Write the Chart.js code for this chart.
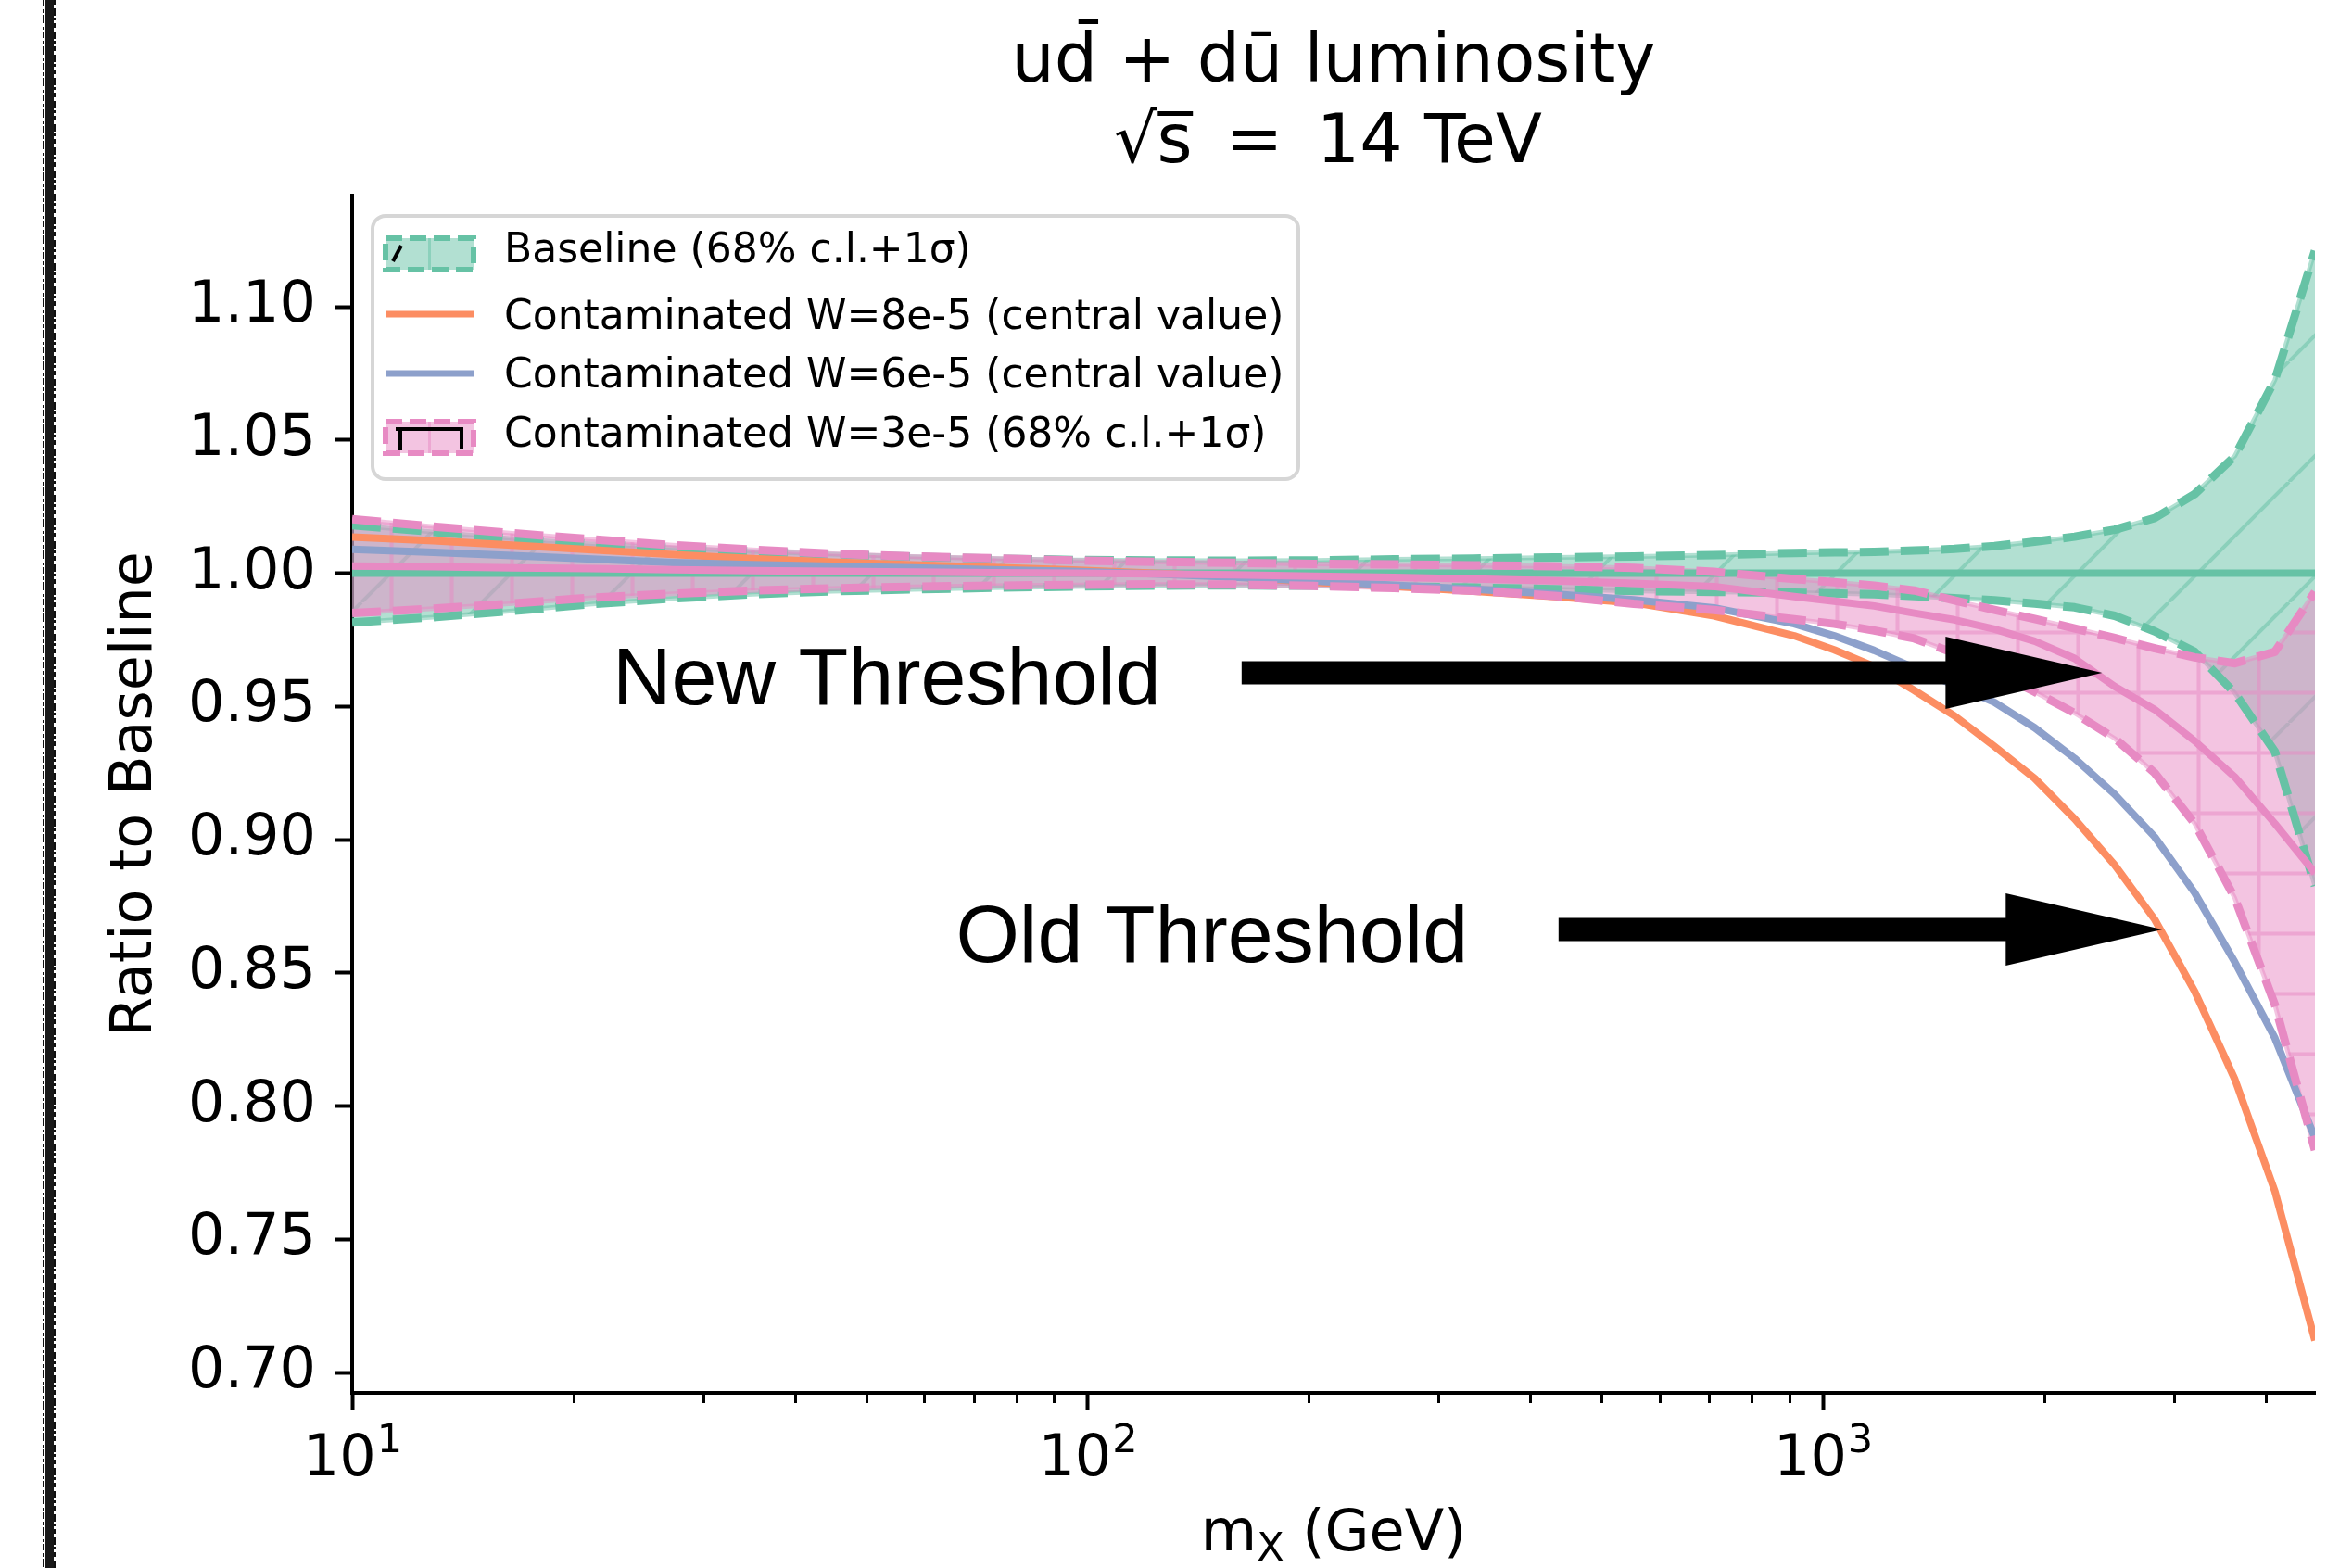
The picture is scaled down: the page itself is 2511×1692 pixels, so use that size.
<!DOCTYPE html>
<html>
<head>
<meta charset="utf-8">
<script src="https://cdn.jsdelivr.net/npm/chart.js@4.4.1/dist/chart.umd.min.js"></script>
<style>
  html, body { margin: 0; padding: 0; background: #fff; }
  canvas { display: block; }
</style>
</head>
<body>
<canvas id="chart" width="2511" height="1692"></canvas>
<script>
// Data (x = m_X in GeV, y = ratio to baseline)
const massValues = [10, 12.9, 16.5, 21.2, 27.3, 35.0, 45.0, 57.9, 74.3, 95.5, 123, 158, 203, 261, 335, 431,
  553, 711, 914, 1036, 1174, 1331, 1509, 1711, 1940, 2199, 2493, 2826, 3203, 3632, 4117, 4667];

const baselineCentral = [1, 1, 1, 1, 1, 1, 1, 1, 1, 1, 1, 1, 1, 1, 1, 1,
  1, 1, 1, 1, 1, 1, 1, 1, 1, 1, 1, 1, 1, 1, 1, 1];
const baselineUpper = [1.0180, 1.0155, 1.0130, 1.0110, 1.0095, 1.0082, 1.0071, 1.0062, 1.0055, 1.0050, 1.0048, 1.0047, 1.0048, 1.0052, 1.0055, 1.0059,
  1.0063, 1.0068, 1.0076, 1.0078, 1.0080, 1.0085, 1.0091, 1.0102, 1.0118, 1.0137, 1.0163, 1.0207, 1.0297, 1.0440, 1.0725, 1.1210];
const baselineLower = [0.9815, 0.9835, 0.9858, 0.9884, 0.9905, 0.9921, 0.9932, 0.9939, 0.9945, 0.9950, 0.9953, 0.9954, 0.9953, 0.9950, 0.9946, 0.9940,
  0.9933, 0.9930, 0.9927, 0.9924, 0.9921, 0.9914, 0.9906, 0.9898, 0.9886, 0.9872, 0.9840, 0.9782, 0.9705, 0.9550, 0.9330, 0.8826];

const w8Central = [1.0136, 1.0122, 1.0105, 1.0088, 1.0070, 1.0055, 1.0042, 1.0031, 1.0022, 1.0012, 1.0000, 0.9987, 0.9966, 0.9950, 0.9932, 0.9912,
  0.9889, 0.9840, 0.9765, 0.9712, 0.9650, 0.9560, 0.9465, 0.9350, 0.9230, 0.9078, 0.8905, 0.8700, 0.8430, 0.8100, 0.7680, 0.7120];
const w6Central = [1.0090, 1.0078, 1.0066, 1.0053, 1.0040, 1.0032, 1.0026, 1.0020, 1.0013, 1.0007, 0.9997, 0.9985, 0.9970, 0.9955, 0.9940, 0.9922,
  0.9900, 0.9870, 0.9810, 0.9765, 0.9710, 0.9645, 0.9580, 0.9515, 0.9420, 0.9305, 0.9170, 0.9010, 0.8800, 0.8540, 0.8255, 0.7880];

const w3Central = [1.0027, 1.0024, 1.0020, 1.0017, 1.0013, 1.0010, 1.0007, 1.0004, 1.0002, 1.0000, 0.9997, 0.9994, 0.9989, 0.9984, 0.9978, 0.9971,
  0.9962, 0.9950, 0.9912, 0.9895, 0.9877, 0.9850, 0.9825, 0.9790, 0.9745, 0.9680, 0.9575, 0.9488, 0.9370, 0.9235, 0.9060, 0.8875];
const w3Upper = [1.0203, 1.0175, 1.0150, 1.0127, 1.0105, 1.0088, 1.0073, 1.0063, 1.0056, 1.0048, 1.0043, 1.0039, 1.0035, 1.0033, 1.0030, 1.0026,
  1.0020, 1.0005, 0.9978, 0.9966, 0.9953, 0.9935, 0.9898, 0.9862, 0.9828, 0.9793, 0.9757, 0.9718, 0.9684, 0.9662, 0.9705, 0.9930];
const w3Lower = [0.9850, 0.9867, 0.9886, 0.9908, 0.9923, 0.9935, 0.9943, 0.9949, 0.9953, 0.9956, 0.9958, 0.9957, 0.9952, 0.9944, 0.9934, 0.9915,
  0.9885, 0.9862, 0.9827, 0.9810, 0.9785, 0.9755, 0.9700, 0.9630, 0.9555, 0.9475, 0.9380, 0.9250, 0.9060, 0.8780, 0.8380, 0.7835];

const yTicks = [0.70, 0.75, 0.80, 0.85, 0.90, 0.95, 1.00, 1.05, 1.10];
const yTickLabels = ["0.70", "0.75", "0.80", "0.85", "0.90", "0.95", "1.00", "1.05", "1.10"];
const xTicks = [10, 100, 1000];
const xTickBase = ["10", "10", "10"];
const xTickExp = ["1", "2", "3"];
const xMinorTicks = [20, 30, 40, 50, 60, 70, 80, 90, 200, 300, 400, 500, 600, 700, 800, 900, 2000, 3000, 4000];

const legendLabels = [
  "Baseline (68% c.l.+1σ)",
  "Contaminated W=8e-5 (central value)",
  "Contaminated W=6e-5 (central value)",
  "Contaminated W=3e-5 (68% c.l.+1σ)",
];
const titleLines = ["ud̄ + dū luminosity", "√s̅\u2002=\u200214 TeV"];
const yAxisTitle = "Ratio to Baseline";

// Annotations (anchors in data coordinates)
const ANNOTATIONS = [
  { label: "New Threshold", textX: 22.6, textY: 0.9508, tailX: 162, tipX: 2397, arrowY: 0.9626 },
  { label: "Old Threshold", textX: 66.2, textY: 0.8541, tailX: 437, tipX: 2894, arrowY: 0.8663 },
];

// Colors (Set2)
const GREEN = "102,194,165";
const PINK = "231,138,195";
const ORANGE = "#fc8d62";
const BLUE = "#8da0cb";
const DASH = [31, 13];
const SOLID_W = 8;
const DASH_W = 9;
const FONT = '"DejaVu Sans"';

const canvas = document.getElementById("chart");
const mainCtx = canvas.getContext("2d");

function rgba(rgb, a) {
  return `rgba(${rgb},${a})`;
}

function makeHatch(rgb, kind) {
  const size = kind === "/" ? 130 : 65;
  const tile = document.createElement("canvas");
  tile.width = size;
  tile.height = size;
  const g = tile.getContext("2d");
  g.fillStyle = rgba(rgb, 0.5);
  g.fillRect(0, 0, size, size);
  g.strokeStyle = rgba(rgb, 0.5);
  g.lineWidth = 4;
  g.beginPath();
  if (kind === "/") {
    [-size, 0, size].forEach((off) => {
      g.moveTo(off, size);
      g.lineTo(off + size, 0);
    });
  } else {
    g.moveTo(0, size / 2);
    g.lineTo(size, size / 2);
    g.moveTo(size / 2, 0);
    g.lineTo(size / 2, size);
  }
  g.stroke();
  return mainCtx.createPattern(tile, "repeat");
}

const greenHatch = makeHatch(GREEN, "/");
const pinkHatch = makeHatch(PINK, "+");

function series(values, opts) {
  return Object.assign(
    {
      data: massValues.map((m, i) => ({ x: m, y: values[i] })),
      pointRadius: 0,
      borderCapStyle: "butt",
      borderJoinStyle: "round",
      fill: false,
    },
    opts
  );
}

const datasets = [
  series(baselineLower, { borderColor: rgba(GREEN, 0.5), borderWidth: 5, order: 10 }),
  series(baselineUpper, { borderColor: rgba(GREEN, 0.5), borderWidth: 5, fill: { target: 0 }, backgroundColor: greenHatch, order: 9 }),
  series(w3Lower, { borderColor: rgba(PINK, 0.5), borderWidth: 5, order: 8 }),
  series(w3Upper, { borderColor: rgba(PINK, 0.5), borderWidth: 5, fill: { target: 2 }, backgroundColor: pinkHatch, order: 7 }),
  series(baselineCentral, { borderColor: rgba(GREEN, 1), borderWidth: SOLID_W, order: 6 }),
  series(baselineLower, { borderColor: rgba(GREEN, 1), borderWidth: DASH_W, borderDash: DASH, order: 5 }),
  series(baselineUpper, { borderColor: rgba(GREEN, 1), borderWidth: DASH_W, borderDash: DASH, order: 5 }),
  series(w8Central, { borderColor: ORANGE, borderWidth: SOLID_W, order: 4 }),
  series(w6Central, { borderColor: BLUE, borderWidth: SOLID_W, order: 3 }),
  series(w3Central, { borderColor: rgba(PINK, 1), borderWidth: SOLID_W, order: 2 }),
  series(w3Lower, { borderColor: rgba(PINK, 1), borderWidth: DASH_W, borderDash: DASH, order: 1 }),
  series(w3Upper, { borderColor: rgba(PINK, 1), borderWidth: DASH_W, borderDash: DASH, order: 1 }),
];

// Drawing helpers
function drawTitle(chart) {
  const { ctx, chartArea } = chart;
  const cx = (chartArea.left + chartArea.right) / 2;
  ctx.save();
  ctx.fillStyle = "#000";
  ctx.font = `73px ${FONT}`;
  ctx.textAlign = "center";
  ctx.textBaseline = "alphabetic";
  ctx.fillText(titleLines[0], cx, 88);
  ctx.fillText(titleLines[1], cx - 6, 175);
  ctx.restore();
}

function drawXAxisText(chart) {
  const { ctx, chartArea } = chart;
  const xs = chart.scales.x;
  ctx.save();
  ctx.fillStyle = "#000";
  ctx.textAlign = "left";
  ctx.textBaseline = "alphabetic";
  xTicks.forEach((v, i) => {
    const px = xs.getPixelForValue(v);
    ctx.font = `62px ${FONT}`;
    const w1 = ctx.measureText(xTickBase[i]).width;
    ctx.font = `43px ${FONT}`;
    const w2 = ctx.measureText(xTickExp[i]).width;
    const x0 = px - (w1 + w2) / 2;
    ctx.font = `62px ${FONT}`;
    ctx.fillText(xTickBase[i], x0, 1592);
    ctx.font = `43px ${FONT}`;
    ctx.fillText(xTickExp[i], x0 + w1 + 1, 1567);
  });

  // axis title: m_X (GeV)
  const cx = (chartArea.left + chartArea.right) / 2;
  ctx.font = `62px ${FONT}`;
  const wm = ctx.measureText("m").width;
  const wr = ctx.measureText(" (GeV)").width;
  ctx.font = `43px ${FONT}`;
  const ws = ctx.measureText("X").width;
  const x = cx - (wm + ws + wr) / 2;
  ctx.font = `62px ${FONT}`;
  ctx.fillText("m", x, 1673);
  ctx.font = `43px ${FONT}`;
  ctx.fillText("X", x + wm, 1684);
  ctx.font = `62px ${FONT}`;
  ctx.fillText(" (GeV)", x + wm + ws, 1673);

  // minor ticks
  ctx.strokeStyle = "#000";
  ctx.lineWidth = 3;
  ctx.beginPath();
  xMinorTicks.forEach((v) => {
    const px = Math.round(xs.getPixelForValue(v)) + 0.5;
    ctx.moveTo(px, chartArea.bottom);
    ctx.lineTo(px, chartArea.bottom + 11);
  });
  ctx.stroke();
  ctx.restore();
}

function drawAnnotations(chart) {
  const { ctx } = chart;
  const xs = chart.scales.x;
  const ys = chart.scales.y;
  ctx.save();
  ctx.fillStyle = "#000";
  ctx.font = '88px "Liberation Sans"';
  ctx.textAlign = "left";
  ctx.textBaseline = "alphabetic";
  ANNOTATIONS.forEach((a) => {
    ctx.fillText(a.label, xs.getPixelForValue(a.textX), ys.getPixelForValue(a.textY));
    const x0 = xs.getPixelForValue(a.tailX);
    const x1 = xs.getPixelForValue(a.tipX);
    const yy = ys.getPixelForValue(a.arrowY);
    const head = 169, half = 12.5, headHalf = 39;
    ctx.beginPath();
    ctx.moveTo(x0, yy - half);
    ctx.lineTo(x1 - head, yy - half);
    ctx.lineTo(x1 - head, yy - headHalf);
    ctx.lineTo(x1, yy);
    ctx.lineTo(x1 - head, yy + headHalf);
    ctx.lineTo(x1 - head, yy + half);
    ctx.lineTo(x0, yy + half);
    ctx.closePath();
    ctx.fill();
  });
  ctx.restore();
}

function drawBandHandle(ctx, cy, rgb, mark) {
  const x = 416, w = 95, h = 34, top = cy - h / 2;
  ctx.fillStyle = rgba(rgb, 0.5);
  ctx.fillRect(x, top, w, h);
  ctx.strokeStyle = rgba(rgb, 0.5);
  ctx.lineWidth = 3;
  ctx.beginPath();
  ctx.moveTo(x + w / 2, top);
  ctx.lineTo(x + w / 2, top + h);
  ctx.stroke();
  ctx.strokeStyle = rgba(rgb, 1);
  ctx.lineWidth = 6;
  ctx.setLineDash([18, 8]);
  ctx.strokeRect(x, top, w, h);
  ctx.setLineDash([]);
  ctx.strokeStyle = "#000";
  ctx.lineWidth = 4;
  ctx.beginPath();
  if (mark === "slash") {
    ctx.moveTo(x + 8, top + 25);
    ctx.lineTo(x + 17, top + 8);
  } else {
    ctx.moveTo(x + 11, top + 8);
    ctx.lineTo(x + 84, top + 8);
    ctx.moveTo(x + 16, top + 8);
    ctx.lineTo(x + 16, top + 31);
    ctx.moveTo(x + 82, top + 8);
    ctx.lineTo(x + 82, top + 29);
  }
  ctx.stroke();
}

function drawLegend(chart) {
  const { ctx } = chart;
  ctx.save();
  const bx = 402, by = 233, bw = 999, bh = 284, r = 14;
  ctx.beginPath();
  ctx.roundRect(bx, by, bw, bh, r);
  ctx.fillStyle = "rgba(255,255,255,0.8)";
  ctx.fill();
  ctx.strokeStyle = "#d6d6d6";
  ctx.lineWidth = 4;
  ctx.stroke();

  drawBandHandle(ctx, 274, GREEN, "slash");
  ctx.lineWidth = 7;
  ctx.strokeStyle = ORANGE;
  ctx.beginPath();
  ctx.moveTo(416, 339);
  ctx.lineTo(511, 339);
  ctx.stroke();
  ctx.strokeStyle = BLUE;
  ctx.beginPath();
  ctx.moveTo(416, 403);
  ctx.lineTo(511, 403);
  ctx.stroke();
  drawBandHandle(ctx, 472, PINK, "cross");

  ctx.fillStyle = "#000";
  ctx.font = `44px ${FONT}`;
  ctx.textAlign = "left";
  ctx.textBaseline = "alphabetic";
  const baselines = [283, 355, 418, 482];
  legendLabels.forEach((t, i) => ctx.fillText(t, 544, baselines[i]));
  ctx.restore();
}

function drawScanEdge(ctx, height) {
  ctx.fillStyle = "#1a1a1a";
  ctx.fillRect(49, 0, 9, height);
  ctx.strokeStyle = "#111";
  ctx.lineWidth = 2;
  ctx.setLineDash([7, 3, 4, 2, 9, 4, 3, 2]);
  ctx.beginPath();
  ctx.moveTo(47, 0);
  ctx.lineTo(47, height);
  ctx.stroke();
  ctx.setLineDash([5, 4, 8, 2, 3, 3]);
  ctx.beginPath();
  ctx.moveTo(59, 0);
  ctx.lineTo(59, height);
  ctx.stroke();
  ctx.setLineDash([]);
}

const decorPlugin = {
  id: "decor",
  beforeDraw(chart) {
    const { ctx } = chart;
    ctx.save();
    ctx.fillStyle = "#fff";
    ctx.fillRect(0, 0, chart.width, chart.height);
    drawScanEdge(ctx, chart.height);
    ctx.restore();
  },
  afterDatasetsDraw(chart) {
    drawAnnotations(chart);
    drawLegend(chart);
  },
  afterDraw(chart) {
    drawXAxisText(chart);
    drawTitle(chart);
  },
};

Chart.defaults.font.family = FONT;
Chart.defaults.color = "#000";

new Chart(canvas, {
  type: "line",
  data: { datasets },
  options: {
    responsive: false,
    animation: false,
    devicePixelRatio: 1,
    events: [],
    layout: { padding: { top: 211, right: 13, left: 0, bottom: 0 } },
    plugins: {
      legend: { display: false },
      title: { display: false },
      tooltip: { enabled: false },
    },
    elements: { line: { tension: 0 } },
    scales: {
      x: {
        type: "logarithmic",
        min: 10,
        max: 4667,
        afterBuildTicks: (s) => {
          s.ticks = xTicks.map((v) => ({ value: v, major: true }));
        },
        afterFit: (s) => {
          s.height = 189;
        },
        ticks: { display: false, autoSkip: false },
        grid: { drawOnChartArea: false, drawTicks: true, tickLength: 18, tickWidth: 4, tickColor: "#000" },
        border: { display: true, color: "#000", width: 4 },
      },
      y: {
        type: "linear",
        min: 0.69235,
        max: 1.14174,
        afterBuildTicks: (s) => {
          s.ticks = yTicks.map((v) => ({ value: v }));
        },
        afterFit: (s) => {
          s.width = 380;
        },
        ticks: {
          autoSkip: false,
          padding: 21,
          font: { size: 62 },
          color: "#000",
          callback: (v, i) => yTickLabels[i],
        },
        grid: { drawOnChartArea: false, drawTicks: true, tickLength: 18, tickWidth: 4, tickColor: "#000" },
        border: { display: true, color: "#000", width: 4 },
        title: {
          display: true,
          text: yAxisTitle,
          font: { size: 62 },
          color: "#000",
          padding: { top: 110, bottom: 0 },
        },
      },
    },
  },
  plugins: [decorPlugin],
});
</script>
</body>
</html>
